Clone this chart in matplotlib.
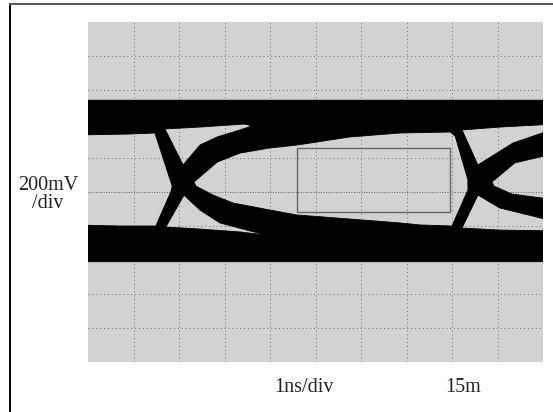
import numpy as np
import matplotlib
matplotlib.use("Agg")
import matplotlib.pyplot as plt
from matplotlib.path import Path
from matplotlib.patches import PathPatch, Rectangle
from matplotlib.lines import Line2D

# eye diagram: time in ns (1 ns/div), level in mV (200 mV/div)
band_top = 540
band_bottom = -410

# openings inside the black traces (time, level)
left_open_t = [0.00, 0.92, 1.47, 1.85, 1.82, 1.49, 0.70, 0.00]
left_open_v = [335, 341, 347, 35, 0, -200, -200, -194]

top_tri1_t = [1.69, 2.46, 3.45, 3.60, 3.34, 2.84, 2.46, 2.09]
top_tri1_v = [371, 382, 400, 388, 365, 324, 276, 159]

bot_tri1_t = [2.11, 2.46, 2.90, 3.49, 3.91, 3.34, 2.46, 1.71]
bot_tri1_v = [-18, -106, -182, -224, -253, -235, -218, -206]

eye_t = [2.33, 2.84, 3.34, 4.00, 4.59, 5.76, 6.86, 7.96, 8.07, 8.35,
         8.35, 8.00, 7.30, 6.86, 5.76, 4.59, 4.00, 3.19, 2.75, 2.37]
eye_v = [59, 176, 229, 259, 276, 324, 347, 353, 329, 71,
         12, -200, -194, -182, -159, -135, -106, -65, -18, 35]

top_tri2_t = [8.22, 9.05, 10.0, 10.0, 9.34, 8.57]
top_tri2_v = [365, 382, 400, 376, 288, 159]

right_eye_t = [8.88, 9.38, 10.0, 10.0, 9.32, 8.92]
right_eye_v = [59, 171, 229, -47, -12, 35]

bot_tri2_t = [8.57, 9.05, 10.0, 10.0, 9.05, 8.22]
bot_tri2_v = [-18, -94, -176, -229, -224, -212]

# mask rectangle
mask_t = [4.6, 7.95]
mask_v = [-120, 260]

openings = [(left_open_t, left_open_v), (top_tri1_t, top_tri1_v),
            (bot_tri1_t, bot_tri1_v), (eye_t, eye_v),
            (top_tri2_t, top_tri2_v), (right_eye_t, right_eye_v),
            (bot_tri2_t, bot_tri2_v)]

bg = "#d2d2d2"
W, H = 553, 412
fig = plt.figure(figsize=(W / 100, H / 100), dpi=100)
ax = fig.add_axes([88 / W, 1 - 362 / H, (543 - 88) / W, (362 - 22) / H])
ax.set_facecolor(bg)
ax.set_xlim(0, 10)
ax.set_ylim(-1000, 1000)
for s in ax.spines.values():
    s.set_visible(False)
ax.set_xticks([])
ax.set_yticks([])

# graticule
for k in range(1, 10):
    ax.axvline(k, color="#707070", lw=0.7, dashes=(1, 3), zorder=1)
for k in range(-4, 5):
    if k == 0:
        ax.axhline(0, color="#606060", lw=0.7, dashes=(1, 1.6), zorder=1)
    else:
        ax.axhline(k * 200, color="#707070", lw=0.7, dashes=(1, 3), zorder=1)


def ring(t, v, ccw):
    pts = np.column_stack([t, v]).astype(float)
    # push edge vertices a bit past the frame so no seam shows
    pts[pts[:, 0] <= 0, 0] = -0.3
    pts[pts[:, 0] >= 10, 0] = 10.3
    x, y = pts[:, 0], pts[:, 1]
    area = 0.5 * np.sum(x * np.roll(y, -1) - np.roll(x, -1) * y)
    if (area > 0) != ccw:
        pts = pts[::-1]
    return pts


verts = []
codes = []
outer = ring([0, 10, 10, 0], [band_bottom, band_bottom, band_top, band_top], True)
for t, v, ccw in [(outer[:, 0], outer[:, 1], True)] + [(t, v, False) for t, v in openings]:
    p = ring(t, v, ccw)
    verts.extend(p.tolist())
    verts.append(p[0].tolist())
    codes.extend([Path.MOVETO] + [Path.LINETO] * (len(p) - 1) + [Path.CLOSEPOLY])

ax.add_patch(PathPatch(Path(verts, codes), facecolor="black", edgecolor="black",
                       lw=0.6, zorder=2))

ax.add_patch(Rectangle((mask_t[0], mask_v[0]), mask_t[1] - mask_t[0], mask_v[1] - mask_v[0],
                       fill=False, edgecolor="#686868", lw=1.0, zorder=3))

# frame of the picture
fig.add_artist(Line2D([10 / W, 10 / W], [0, 1 - 4 / H], color="black", lw=1.4))
fig.add_artist(Line2D([10 / W, 1], [1 - 4 / H, 1 - 4 / H], color="#555555", lw=1.4))

font = dict(family="Liberation Serif", size=14.5, color="#222222")
fig.text(48 / W, 1 - 185 / H, "200mV", ha="center", va="center", **font)
fig.text(48 / W, 1 - 203 / H, "/div", ha="center", va="center", **font)
fig.text(304 / W, 1 - 388 / H, "1ns/div", ha="center", va="center", **font)
fig.text(463 / W, 1 - 388 / H, "15m", ha="center", va="center", **font)

fig.savefig("out.png", dpi=100)
